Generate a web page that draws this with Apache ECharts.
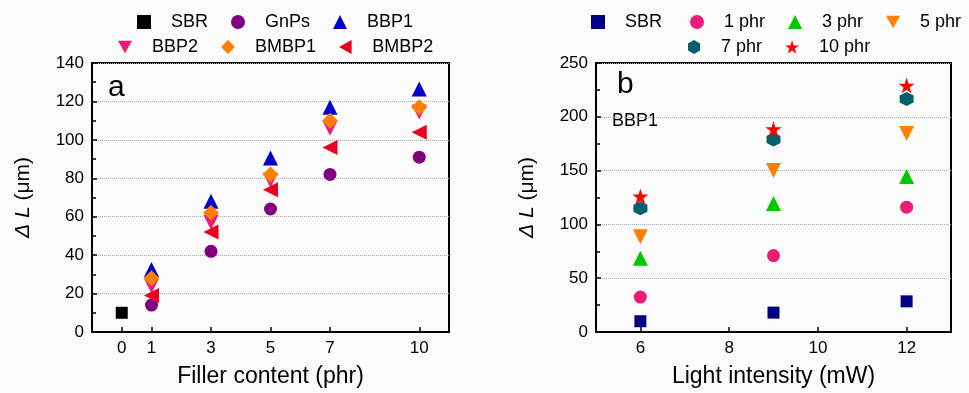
<!DOCTYPE html>
<html>
<head>
<meta charset="utf-8">
<script src="https://cdn.jsdelivr.net/npm/echarts@6/dist/echarts.min.js"></script>
<style>
  html, body { margin: 0; padding: 0; background: #fbfbfb; }
  #chart { width: 969px; height: 393px; }
</style>
</head>
<body>
<div id="chart"></div>
<script>
// panel a: deformation vs filler content
const fillerX = [1, 3, 5, 7, 10]
const sbrX = [0]
const sbrY = [10]
const gnps = [14, 42, 64, 82, 91]
const bbp1 = [32.5, 68, 90.5, 117, 126.5]
const bbp2 = [24, 57, 79, 106, 114.5]
const bmbp1 = [28, 62, 82, 110, 117]
const bmbp2 = [19, 52, 74, 96, 104]
const fillerTicks = [0, 1, 3, 5, 7, 10]

// panel b: BBP1 deformation vs light intensity
const lightX = [6, 9, 12]
const sbrB = [10, 18, 28.5]
const phr1 = [32.5, 71, 116]
const phr3 = [68.5, 119.5, 144.5]
const phr5 = [88.5, 150, 184.5]
const phr7 = [115, 179, 216.5]
const phr10 = [126, 188.5, 229]
const lightTicks = [6, 8, 10, 12]

const FONT = "Liberation Sans, Arial, sans-serif"
const DOWN = "path://M-1,-0.9L1,-0.9L0,0.9Z"
const LEFT = "path://M0.9,-1L0.9,1L-0.9,0Z"
const HEX = "path://M0,-1L0.866,-0.5L0.866,0.5L0,1L-0.866,0.5L-0.866,-0.5Z"
const STAR = "path://M0,-1L0.2245,-0.309L0.9511,-0.309L0.3633,0.118L0.5878,0.809L0,0.382L-0.5878,0.809L-0.3633,0.118L-0.9511,-0.309L-0.2245,-0.309Z"

const pairs = (xs, ys) => xs.map((x, i) => [x, ys[i]])

function scatter(name, xs, ys, idx, symbol, color, size) {
  return {
    name: name,
    type: "scatter",
    xAxisIndex: idx,
    yAxisIndex: idx,
    data: pairs(xs, ys),
    symbol: symbol,
    symbolSize: size,
    itemStyle: { color: color, opacity: 1 },
  }
}

function xAxis(idx, min, max, ticks, name) {
  return {
    type: "value",
    gridIndex: idx,
    min: min,
    max: max,
    name: name,
    nameLocation: "middle",
    nameGap: 33,
    nameTextStyle: { fontFamily: FONT, fontSize: 23, color: "#000" },
    axisLine: { onZero: false, lineStyle: { color: "#000", width: 2 } },
    axisTick: { inside: true, length: 5, customValues: ticks, lineStyle: { color: "#000", width: 1.5 } },
    axisLabel: { customValues: ticks, margin: 8, fontFamily: FONT, fontSize: 17, color: "#000" },
    splitLine: { show: false },
  }
}

function yAxis(idx, max, interval) {
  return {
    type: "value",
    gridIndex: idx,
    min: 0,
    max: max,
    interval: interval,
    name: "{i|Δ L} (μm)",
    nameLocation: "middle",
    nameGap: 58,
    nameTextStyle: {
      fontFamily: FONT, fontSize: 21, color: "#000",
      rich: { i: { fontFamily: FONT, fontSize: 21, fontStyle: "italic", color: "#000" } },
    },
    axisLine: { onZero: false, lineStyle: { color: "#000", width: 2 } },
    axisTick: { inside: true, length: 5, lineStyle: { color: "#000", width: 1.5 } },
    minorTick: { show: true, splitNumber: 2, length: 4, lineStyle: { color: "#000", width: 1.5 } },
    axisLabel: { margin: 8, fontFamily: FONT, fontSize: 17, color: "#000" },
    splitLine: { show: true, lineStyle: { color: "#aaa", type: "dotted", width: 1 } },
  }
}

function legend(left, top, names) {
  return {
    left: left,
    top: top,
    data: names,
    itemWidth: 14,
    itemHeight: 14,
    itemGap: 23,
    textStyle: { fontFamily: FONT, fontSize: 18, color: "#000", padding: [0, 0, 0, 15] },
  }
}

const chart = echarts.init(document.getElementById("chart"))

chart.setOption({
  backgroundColor: "#fbfbfb",
  animation: false,
  grid: [
    { left: 92, right: 520, top: 63, bottom: 59, show: true, borderColor: "#000", borderWidth: 2 },
    { left: 596, right: 18, top: 63, bottom: 59, show: true, borderColor: "#000", borderWidth: 2 },
  ],
  legend: [
    legend(132, 8, ["SBR", "GnPs", "BBP1"]),
    legend(113, 33, ["BBP2", "BMBP1", "BMBP2"]),
    legend(586, 8, ["SBR ", "1 phr", "3 phr", "5 phr"]),
    legend(683, 33, ["7 phr", "10 phr"]),
  ],
  xAxis: [
    xAxis(0, -1, 11, fillerTicks, "Filler content (phr)"),
    xAxis(1, 5, 13, lightTicks, "Light intensity (mW)"),
  ],
  yAxis: [yAxis(0, 140, 20), yAxis(1, 250, 50)],
  graphic: [
    { type: "text", left: 108, top: 73, style: { text: "a", fontFamily: FONT, fontSize: 30, fill: "#000" } },
    { type: "text", left: 617, top: 70, style: { text: "b", fontFamily: FONT, fontSize: 30, fill: "#000" } },
    { type: "text", left: 612, top: 112, style: { text: "BBP1", fontFamily: FONT, fontSize: 18, fill: "#000" } },
  ],
  series: [
    scatter("SBR", sbrX, sbrY, 0, "rect", "#000000", 12),
    scatter("GnPs", fillerX, gnps, 0, "circle", "#800080", 13),
    scatter("BBP1", fillerX, bbp1, 0, "triangle", "#0000c8", 15),
    scatter("BBP2", fillerX, bbp2, 0, DOWN, "#ec1a78", 15),
    scatter("BMBP1", fillerX, bmbp1, 0, "diamond", "#ff8000", 16),
    scatter("BMBP2", fillerX, bmbp2, 0, LEFT, "#e8001c", 15),
    scatter("SBR ", lightX, sbrB, 1, "rect", "#000080", 12),
    scatter("1 phr", lightX, phr1, 1, "circle", "#ec1a78", 13),
    scatter("3 phr", lightX, phr3, 1, "triangle", "#00c800", 15),
    scatter("5 phr", lightX, phr5, 1, DOWN, "#ff8000", 15),
    scatter("7 phr", lightX, phr7, 1, HEX, "#05606e", 14),
    scatter("10 phr", lightX, phr10, 1, STAR, "#ff0000", 16),
  ],
})
</script>
</body>
</html>
